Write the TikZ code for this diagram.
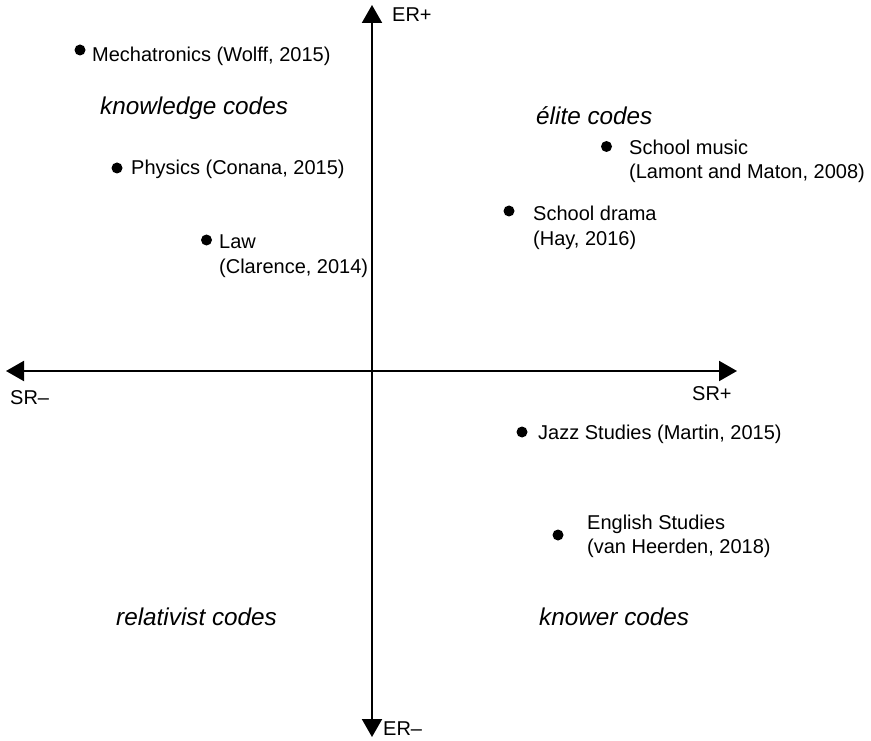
\documentclass[tikz,border=0pt]{standalone}
\usepackage{fontspec}
\setmainfont{Liberation Sans}
\usetikzlibrary{arrows.meta}
\begin{document}
\begin{tikzpicture}[x=1pt,y=-1pt,
  axis/.style={line width=2pt, {Triangle[length=18pt,width=20pt]}-{Triangle[length=18pt,width=20pt]}},
  lbl/.style={anchor=base west, inner sep=0pt, font=\fontsize{20}{24}\selectfont},
  code/.style={anchor=base west, inner sep=0pt, font=\fontsize{24.3}{28}\selectfont\itshape},
  dot/.style={circle, fill=black, inner sep=0pt, minimum size=11pt}]
\useasboundingbox (0,0) rectangle (871,741);
% axes
\coordinate (ertop) at (372,5);
\coordinate (erbot) at (372,737);
\coordinate (srl) at (6,371);
\coordinate (srr) at (737,371);
\draw[axis] (erbot) -- (ertop);
\draw[axis] (srl) -- (srr);
\node[lbl] (erplus) at (392,22) {ER+};
\node[lbl] (erminus) at (383,735) {ER–};
\node[lbl] (srminus) at (10,404) {SR–};
\node[lbl] (srplus) at (692,400) {SR+};
% quadrant labels
\node[code] (knowledge) at (100,115) {knowledge codes};
\node[code] (elite) at (536,124.5) {élite codes};
\node[code] (relativist) at (116,625) {relativist codes};
\node[code] (knower) at (539,625) {knower codes};
% data points
\node[dot] (mdot) at (80,50) {};
\node[lbl] (mech) at (92,61.5) {Mechatronics (Wolff, 2015)};
\node[dot] (pdot) at (117,168) {};
\node[lbl] (phys) at (131,175) {Physics (Conana, 2015)};
\node[dot] (ldot) at (206.5,240) {};
\node[lbl] (law) at (219,248.5) {Law};
\node[lbl] (lawref) at (219,273.5) {(Clarence, 2014)};
\node[dot] (smdot) at (606.5,146.5) {};
\node[lbl] (music) at (629,154.5) {School music};
\node[lbl] (musicref) at (629,179) {(Lamont and Maton, 2008)};
\node[dot] (sddot) at (509,211) {};
\node[lbl] (drama) at (533,220.5) {School drama};
\node[lbl] (dramaref) at (533,245) {(Hay, 2016)};
\node[dot] (jdot) at (522,432) {};
\node[lbl] (jazz) at (538,439.5) {Jazz Studies (Martin, 2015)};
\node[dot] (edot) at (558,535) {};
\node[lbl] (english) at (587,529) {English Studies};
\node[lbl] (englishref) at (587,553.5) {(van Heerden, 2018)};
\end{tikzpicture}
\end{document}
